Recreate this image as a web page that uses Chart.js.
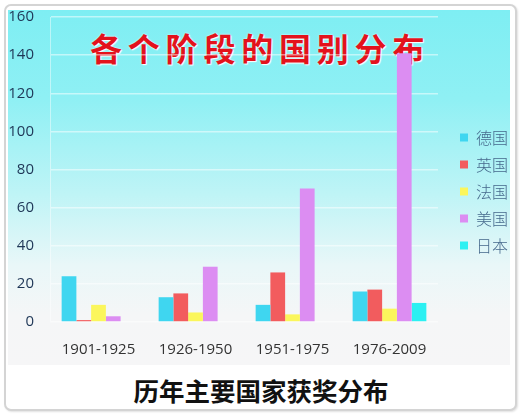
<!DOCTYPE html>
<html>
<head>
<meta charset="utf-8">
<script src="https://cdn.jsdelivr.net/npm/chart.js@4.4.0/dist/chart.umd.min.js"></script>
<style>
  html, body { margin: 0; padding: 0; background: #ffffff; }
  #wrap { position: relative; width: 522px; height: 416px; background: #fff; overflow: hidden; }
  #frame { position: absolute; left: 4px; top: 4px; width: 513px; height: 407px;
    border: 2px solid #d4d4d4; border-radius: 7px; box-sizing: border-box; background: #fff;
    box-shadow: 1px 1px 2px rgba(0,0,0,0.12); }
  #panel { position: absolute; left: 8px; top: 10px; width: 502px; height: 355px;
    background: linear-gradient(to bottom, #7eeef3 0%, #8ff0f4 25%, #bff4f6 52%, #e9f7f8 72%, #f5f6f7 86%, #f6f6f7 100%); }
  #chartbox { position: absolute; left: 0; top: 0; width: 522px; height: 416px; }
  #title { position: absolute; left: 90px; top: 30px; line-height: 34px; font-family: "Noto Sans CJK SC", sans-serif;
    font-weight: 700; font-size: 32px; letter-spacing: 5.8px; color: #e3121c;
    text-shadow: 0 0 2px #fff, 1px 1px 1px #fff; white-space: nowrap; }
  #caption { position: absolute; left: 0; width: 522px; top: 376px; line-height: 28px; text-align: center;
    font-family: "Noto Sans CJK SC", sans-serif; font-weight: 700; font-size: 25.5px; color: #111; }
</style>
</head>
<body>
<div id="wrap">
  <div id="frame"></div>
  <div id="panel"></div>
  <div id="title">各个阶段的国别分布</div>
  <div id="caption">历年主要国家获奖分布</div>
  <div id="chartbox"><canvas id="mycanvas"></canvas></div>
</div>
<script>
var periods = ["1901-1925", "1926-1950", "1951-1975", "1976-2009"];
var germany = [24, 13, 9, 16];
var britain = [1, 15, 26, 17];
var france = [9, 5, 4, 7];
var usa = [3, 29, 70, 141];
var japan = [0, 0, 0, 10];
var yTicks = [0, 20, 40, 60, 80, 100, 120, 140, 160];

var chartdata = {
	labels: periods,
	datasets: [
		{ label: "德国", backgroundColor: "#3fd6f0", data: germany },
		{ label: "英国", backgroundColor: "#f25c5e", data: britain },
		{ label: "法国", backgroundColor: "#fbf65c", data: france },
		{ label: "美国", backgroundColor: "#dc8df2", data: usa },
		{ label: "日本", backgroundColor: "#2cf0f2", data: japan }
	]
};

var ctx = document.getElementById("mycanvas");

var BarGraph = new Chart(ctx, {
	type: 'bar',
	data: chartdata,
	options: {
		responsive: true,
		maintainAspectRatio: false,
		animation: false,
		layout: { padding: { left: 0, top: 17, right: 4, bottom: 50 } },
		datasets: { bar: { categoryPercentage: 0.76, barPercentage: 1.0 } },
		plugins: {
			tooltip: { enabled: false },
			legend: {
				position: 'right',
				labels: {
					boxWidth: 8,
					boxHeight: 8,
					padding: 11,
					color: "#46698c",
					font: { family: "'Noto Sans CJK SC', sans-serif", size: 16, weight: 300 }
				}
			}
		},
		scales: {
			x: {
				grid: { display: false, drawTicks: false },
				border: { display: false },
				afterFit: function(axis) { axis.height = 44; },
				ticks: {
					color: "#333",
					padding: 19,
					font: { family: "'Open Sans', sans-serif", size: 15 }
				}
			},
			y: {
				min: 0,
				max: 160,
				afterBuildTicks: function(axis) {
					axis.ticks = yTicks.map(function(v) { return { value: v }; });
				},
				afterFit: function(axis) {
					axis.width = 50;
					axis.paddingTop = 0;
					axis.paddingBottom = 0;
				},
				grid: { color: "rgba(255,255,255,0.5)", drawTicks: false, lineWidth: 1.5 },
				border: { display: true, color: "rgba(255,255,255,0.45)" },
				ticks: {
					color: "#1e3656",
					padding: 16,
					font: { family: "'Open Sans', sans-serif", size: 15 }
				}
			},
			// empty spacer between plot and legend
			gap: {
				type: 'linear',
				position: 'right',
				grid: { display: false },
				border: { display: false },
				ticks: { display: false },
				afterFit: function(axis) { axis.width = 11; }
			}
		}
	}
});
</script>
</body>
</html>
